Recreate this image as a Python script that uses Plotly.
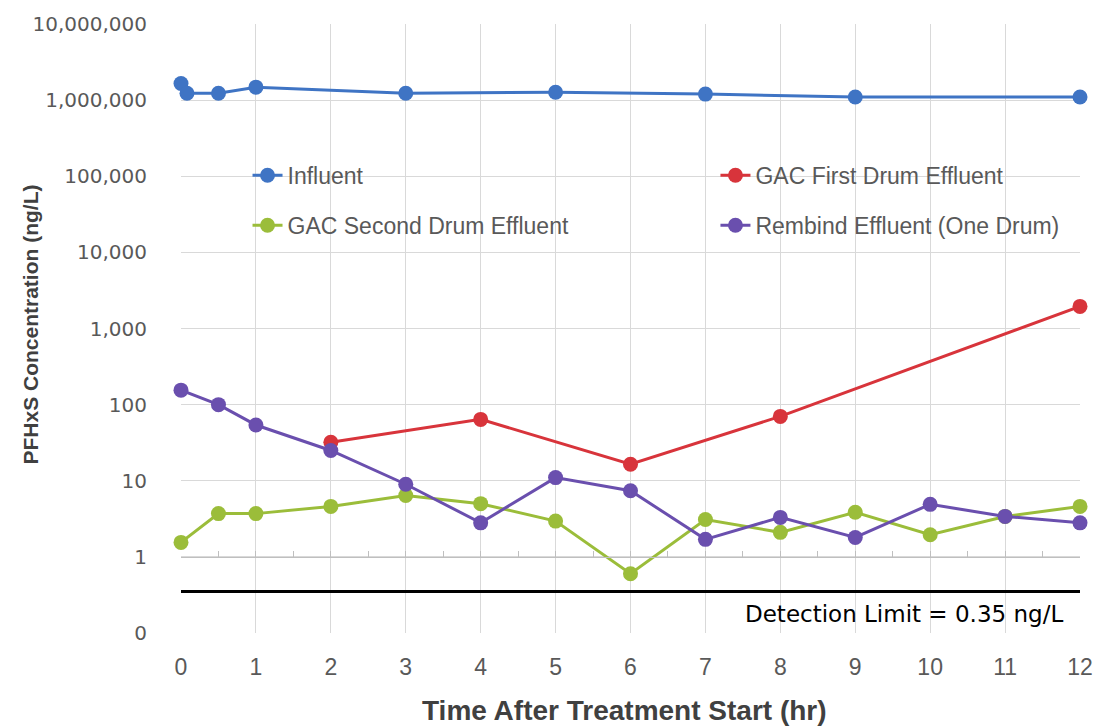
import plotly.graph_objects as go

# Sampling times (hours after treatment start)
influent_t = [0, 0.08, 0.5, 1, 3, 5, 7, 9, 12]
gac1_t = [2, 4, 6, 8, 12]
effluent_t = [0, 0.5, 1, 2, 3, 4, 5, 6, 7, 8, 9, 10, 11, 12]

# PFHxS concentrations (ng/L)
influent = [1650000, 1230000, 1230000, 1480000, 1230000, 1270000, 1200000, 1100000, 1100000]
gac_first = [32, 64, 16.5, 70, 1950]
gac_second = [1.55, 3.7, 3.7, 4.6, 6.4, 5.0, 2.95, 0.6, 3.1, 2.1, 3.85, 1.95, 3.4, 4.6]
rembind = [155, 100, 54, 25, 9, 2.8, 11, 7.4, 1.7, 3.3, 1.8, 4.9, 3.4, 2.8]

detection_limit = 0.35

y_tickvals = [0.1, 1, 10, 100, 1000, 10000, 100000, 1000000, 10000000]
y_ticktext = ["0", "1", "10", "100", "1,000", "10,000", "100,000", "1,000,000", "10,000,000"]
x_tickvals = list(range(0, 13))

SANS = "Liberation Sans, Arial, sans-serif"
WIDE = "DejaVu Sans, Verdana, sans-serif"

Y_MIN_LOG, Y_MAX_LOG = -1, 7

# name, times, values, colour, legend id, legend x / y (paper)
series = [
    ("Influent", influent_t, influent, "#3f74c4", "legend", 0.074, 0.7515),
    ("GAC First Drum Effluent", gac1_t, gac_first, "#d8343b", "legend2", 0.5945, 0.7515),
    ("GAC Second Drum Effluent", effluent_t, gac_second, "#9bbd3a", "legend3", 0.074, 0.6695),
    ("Rembind Effluent (One Drum)", effluent_t, rembind, "#6a4fae", "legend4", 0.5945, 0.6695),
]

fig = go.Figure()

# Detection limit reference line
fig.add_trace(go.Scatter(
    x=[0, 12], y=[detection_limit, detection_limit], mode="lines",
    line=dict(color="black", width=3), showlegend=False, hoverinfo="skip",
    cliponaxis=False,
))

legends = {}
for name, t, vals, color, leg, lx, ly in series:
    fig.add_trace(go.Scatter(
        x=t, y=vals, name=name, mode="lines+markers",
        line=dict(color=color, width=3),
        marker=dict(color=color, size=15),
        legend=leg, cliponaxis=False,
    ))
    legends[leg] = dict(
        x=lx, y=ly, xanchor="left", yanchor="middle", orientation="h",
        bgcolor="rgba(0,0,0,0)",
        font=dict(family=SANS, size=23, color="#595959"),
    )

fig.update_layout(
    width=1105, height=728,
    margin=dict(l=181, r=19, t=18, b=95),
    paper_bgcolor="white", plot_bgcolor="white",
    **legends,
    xaxis=dict(
        range=[0, 12], tickvals=x_tickvals, showgrid=True, gridcolor="#d9d9d9",
        gridwidth=1, zeroline=False, showline=False, ticks="",
        ticklabelstandoff=18,
        tickfont=dict(family=SANS, size=23, color="#595959"),
    ),
    # axis line with half-hour tick marks crossing the value axis at 1
    xaxis2=dict(
        range=[0, 12], overlaying="x", anchor="free",
        position=(0 - Y_MIN_LOG) / (Y_MAX_LOG - Y_MIN_LOG),
        side="bottom", showgrid=False, zeroline=False, showticklabels=False,
        showline=True, linecolor="#bfbfbf", linewidth=1,
        ticks="inside", dtick=0.5, tick0=0, ticklen=6, tickcolor="#bfbfbf",
    ),
    yaxis=dict(
        type="log", range=[Y_MIN_LOG, Y_MAX_LOG], tickvals=y_tickvals, ticktext=y_ticktext,
        showgrid=True, gridcolor="#d9d9d9", gridwidth=1, zeroline=False,
        showline=False, ticks="", ticklabelstandoff=33,
        tickfont=dict(family=WIDE, size=20, color="#595959"),
    ),
    annotations=[
        dict(text="<b>PFHxS Concentration (ng/L)</b>", xref="paper", yref="paper",
             x=0, y=0.5, xanchor="center", yanchor="middle", xshift=-151, yshift=4,
             textangle=-90, showarrow=False,
             font=dict(family=SANS, size=21, color="#404040")),
        dict(text="<b>Time After Treatment Start (hr)</b>", xref="paper", yref="paper",
             x=0.5, y=0, xanchor="center", yanchor="middle", xshift=-6, yshift=-77,
             showarrow=False, font=dict(family=SANS, size=28, color="#404040")),
        dict(text="Detection Limit = 0.35 ng/L", xref="paper", yref="paper",
             x=1, y=0.031, xanchor="right", yanchor="middle", xshift=-15,
             showarrow=False, font=dict(family=WIDE, size=23, color="black")),
    ],
)

# invisible trace that keeps the secondary axis drawn
fig.add_trace(go.Scatter(x=[0], y=[1], xaxis="x2", mode="markers",
                         marker=dict(opacity=0), showlegend=False, hoverinfo="skip"))

fig.write_html("out.html")
